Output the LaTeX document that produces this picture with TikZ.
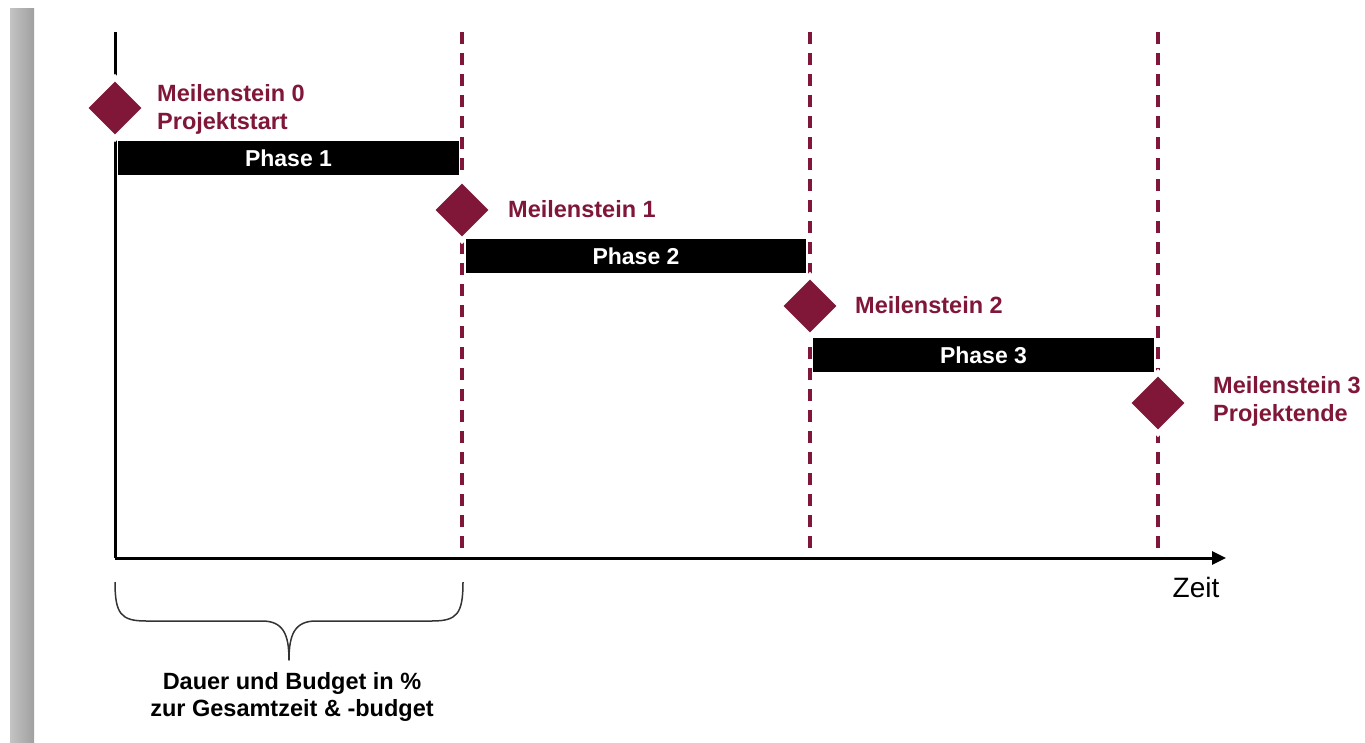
\documentclass[tikz,border=0pt]{standalone}
\usepackage{fontspec}
\setmainfont{Liberation Sans}
\usetikzlibrary{arrows.meta,shapes.geometric}
\definecolor{maroon}{RGB}{128,22,56}
\definecolor{barlight}{RGB}{195,195,195}
\definecolor{bardark}{RGB}{160,160,160}
\tikzset{
  ms/.style={diamond,fill=maroon,minimum size=53pt,inner sep=0pt,
    preaction={draw=white,line width=11pt}},
  mslabel/.style={anchor=west,inner sep=0pt,text=maroon,align=left,
    font=\bfseries\fontsize{23.5}{28}\selectfont},
  phasebar/.style={fill=black,text=white,minimum height=34pt,inner sep=0pt,
    font=\bfseries\fontsize{23}{27}\selectfont},
  msline/.style={draw=maroon,line width=3.2pt,dash pattern=on 12pt off 9pt},
  axis/.style={draw=black,line width=3pt},
}
\begin{document}
\begin{tikzpicture}[x=1pt,y=-1pt]
\useasboundingbox (0,0) rectangle (1365,743);
\fill[white] (0,0) rectangle (1365,743);
% gray side bar
\shade[left color=barlight,right color=bardark] (10,9) rectangle (34,743);
% coordinates
\coordinate (origin) at (115,558);
\coordinate (ytop) at (115,32);
\coordinate (xend) at (1226,558);
\coordinate (t1) at (462,32);
\coordinate (b1) at (462,558);
\coordinate (t2) at (810,32);
\coordinate (b2) at (810,558);
\coordinate (t3) at (1158,32);
\coordinate (b3) at (1158,558);
% milestone dashed lines
\draw[msline] (t1) -- (b1);
\draw[msline] (t2) -- (b2);
\draw[msline] (t3) -- (b3);
% axes
\draw[axis] (ytop) -- (origin);
\draw[axis,-{Triangle[length=14pt,width=13pt]}] (origin) -- (xend);
\node[anchor=north,inner sep=0pt,font=\fontsize{28}{32}\selectfont] (zeit) at (1196,577) {Zeit};
% milestones
\node[ms] (m0) at (115,108) {};
\node[ms] (m1) at (462,210) {};
\node[ms] (m2) at (810,306) {};
\node[ms] (m3) at (1158,403) {};
\node[mslabel] (l0) at (157,109) {Meilenstein 0\\Projektstart};
\node[mslabel] (l1) at (508,209) {Meilenstein 1};
\node[mslabel] (l2) at (855,305) {Meilenstein 2};
\node[mslabel] (l3) at (1213,401) {Meilenstein 3\\Projektende};
% phases
\node[phasebar,minimum width=341pt] (p1) at (288.5,158) {Phase 1};
\node[phasebar,minimum width=340pt] (p2) at (636,256) {Phase 2};
\node[phasebar,minimum width=341pt] (p3) at (983.5,355) {Phase 3};
% brace
\draw[line width=1.5pt,color=black!80,line join=round]
  (115,582) .. controls (115,614) and (121,621) .. (146,621)
  -- (262,621) .. controls (283,621) and (289,634) .. (289,660)
  .. controls (289,634) and (295,621) .. (316,621)
  -- (432,621) .. controls (457,621) and (463,614) .. (463,582);
\node[inner sep=0pt,align=center,font=\bfseries\fontsize{23.5}{27.5}\selectfont] (note) at (292,697)
  {Dauer und Budget in \%\\zur Gesamtzeit \& -budget};
\end{tikzpicture}
\end{document}
